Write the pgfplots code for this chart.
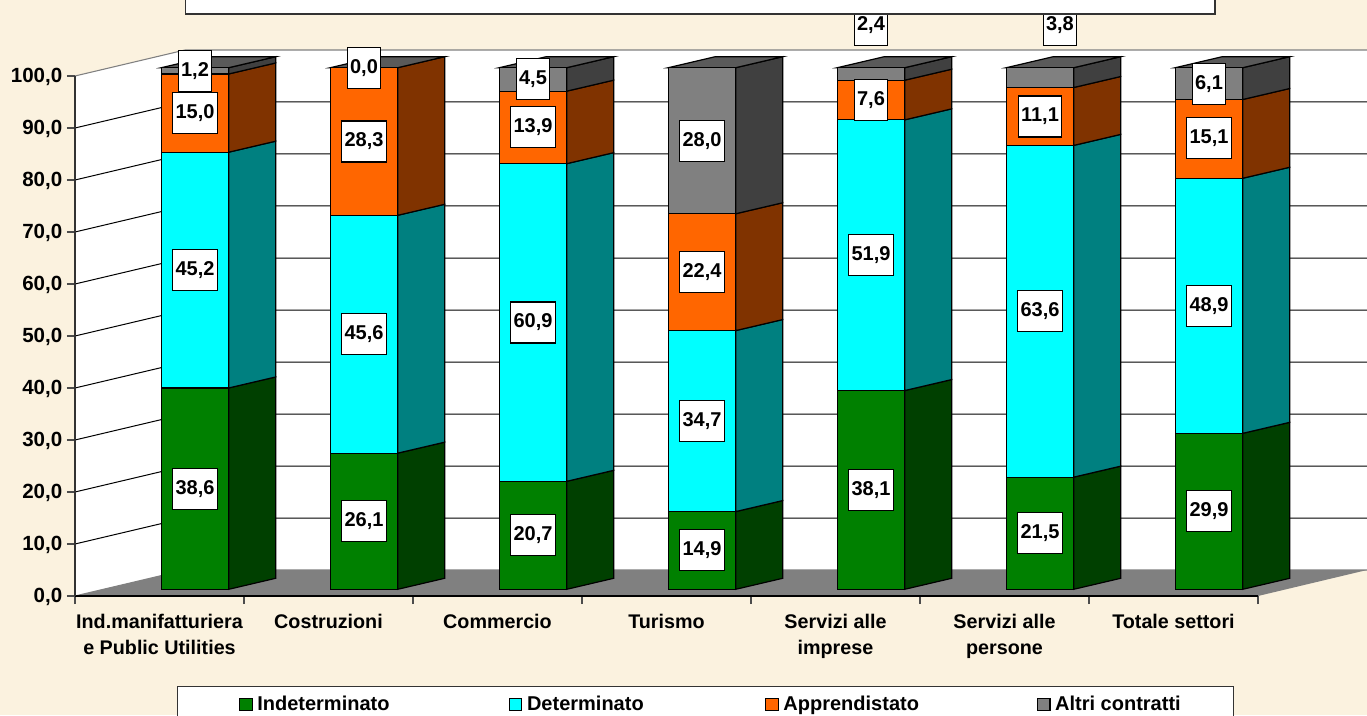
\documentclass[border=0pt]{standalone}
\usepackage{fontspec}
\setmainfont{Liberation Sans}
\usepackage{pgfplots}
\usepackage{pgfplotstable}
\pgfplotsset{compat=1.18}
\definecolor{paper}{HTML}{FBF2DF}
\definecolor{cgreen}{RGB}{0,128,0}
\definecolor{ccyan}{RGB}{0,255,255}
\definecolor{corange}{RGB}{255,102,0}
\definecolor{cgray}{RGB}{128,128,128}
\definecolor{sgreen}{RGB}{0,64,0}
\definecolor{scyan}{RGB}{0,128,128}
\definecolor{sorange}{RGB}{128,51,0}
\definecolor{sgray}{RGB}{64,64,64}
\definecolor{tgray}{RGB}{90,90,90}
\newcommand{\chartfont}{\fontsize{15.4}{19.5}\selectfont\bfseries}
\newcommand{\catfont}{\fontsize{14.8}{19.5}\selectfont\bfseries}
\newcommand{\valfont}{\fontsize{15}{19.5}\selectfont\bfseries}
\newcommand{\legfont}{\fontsize{15}{19.5}\selectfont\bfseries}
\pgfplotstableread{
x ind det app alt
0 38.6 45.2 15.0 1.2
1 26.1 45.6 28.3 0.0
2 20.7 60.9 13.9 4.5
3 14.9 34.7 22.4 28.0
4 38.1 51.9 7.6 2.4
5 21.5 63.6 11.1 3.8
6 29.9 48.9 15.1 6.1
}\bardata
\pgfplotstableread{
x y lab
0 19.3 38,6
0 61.2 45,2
0 91.3 15,0
0 99.4 1,2
1 13.05 26,1
1 48.9 45,6
1 85.85 28,3
1 100 0,0
2 10.35 20,7
2 51.15 60,9
2 88.55 13,9
2 97.75 4,5
3 7.45 14,9
3 32.25 34,7
3 60.8 22,4
3 86 28,0
4 19.05 38,1
4 64.05 51,9
4 93.8 7,6
4 108.1 2,4
5 10.75 21,5
5 53.3 63,6
5 90.65 11,1
5.118 108.1 3,8
6 14.95 29,9
6 54.35 48,9
6 86.55 15,1
6 96.95 6,1
}\labeldata
% side face: bar index, lower value, upper value, colour
\newcommand{\sideface}[4]{%
  \pgfmathsetmacro\xa{#1+0.1994}%
  \pgfmathsetmacro\xb{#1+0.1994+0.278}%
  \pgfmathsetmacro\ya{#2+2.11}%
  \pgfmathsetmacro\yb{#3+2.11}%
  \edef\temp{\noexpand\addplot[fill=#4,draw=black,line width=0.9pt] coordinates {(\xa,#2)(\xb,\ya)(\xb,\yb)(\xa,#3)} -- cycle;}\temp}
\newcommand{\topface}[1]{%
  \pgfmathsetmacro\xa{#1-0.1994}%
  \pgfmathsetmacro\xb{#1+0.1994}%
  \pgfmathsetmacro\xc{#1+0.1994+0.278}%
  \pgfmathsetmacro\xd{#1-0.1994+0.278}%
  \edef\temp{\noexpand\addplot[fill=tgray,draw=black,line width=0.9pt] coordinates {(\xa,100)(\xd,102.11)(\xc,102.11)(\xb,100)} -- cycle;}\temp}
\begin{document}
\begin{tikzpicture}
\path[use as bounding box] (-56.25pt,-89.25pt) rectangle (969pt,447pt);
\clip (-56.25pt,-89.25pt) rectangle (969pt,447pt);
\fill[paper] (-56.25pt,-89.25pt) rectangle (969pt,447pt);
% walls, floor, grid and the axes
\begin{axis}[
  name=base, at={(0pt,0pt)}, anchor=south west,
  scale only axis, width=887.25pt, height=390pt,
  xmin=0, xmax=7, ymin=0, ymax=100, clip=false,
  axis lines*=left, axis on top=true,
  x axis line style={line width=1.4pt},
  y axis line style={line width=0.8pt,black!80},
  tick align=outside, major tick length=6pt,
  tick style={line width=0.8pt,black!70},
  ytick={0,10,...,100},
  xtick={0,1,...,7},
  x tick label as interval,
  xticklabels={{Ind.manifatturiera\\e Public Utilities},Costruzioni,Commercio,Turismo,{Servizi alle\\imprese},{Servizi alle\\persone},Totale settori},
  xticklabel style={align=center,font=\catfont,yshift=-4.4pt},
  yticklabel style={font=\chartfont,yshift=-0.8pt,
    /pgf/number format/.cd,fixed,fixed zerofill,precision=1,use comma,1000 sep={},assume math mode=true},
]
\addplot[fill=white,draw=none] coordinates {(0,0)(0.651,5)(7.645,5)(7.645,105)(0.651,105)(0,100)} -- cycle;
\addplot[fill=cgray,draw=none] coordinates {(0,0)(0.651,5)(7.645,5)(7,0)} -- cycle;
\addplot[black!50,line width=0.8pt] coordinates {(0,100)(0.651,105)(7.645,105)};
\addplot[black,line width=0.75pt] coordinates {(0,90)(0.651,95)(7.645,95)};
\addplot[black,line width=0.75pt] coordinates {(0,80)(0.651,85)(7.645,85)};
\addplot[black,line width=0.75pt] coordinates {(0,70)(0.651,75)(7.645,75)};
\addplot[black,line width=0.75pt] coordinates {(0,60)(0.651,65)(7.645,65)};
\addplot[black,line width=0.75pt] coordinates {(0,50)(0.651,55)(7.645,55)};
\addplot[black,line width=0.75pt] coordinates {(0,40)(0.651,45)(7.645,45)};
\addplot[black,line width=0.75pt] coordinates {(0,30)(0.651,35)(7.645,35)};
\addplot[black,line width=0.75pt] coordinates {(0,20)(0.651,25)(7.645,25)};
\addplot[black,line width=0.75pt] coordinates {(0,10)(0.651,15)(7.645,15)};
\addplot[black!50,line width=0.8pt] coordinates {(0,0)(0.651,5)(7.645,5)};
\end{axis}
% side and top faces of the bars
\begin{axis}[
  at={(26.625pt,5.025pt)}, anchor=south west,
  scale only axis, width=887.25pt, height=391.2pt,
  xmin=-0.5, xmax=6.5, ymin=0, ymax=100, clip=false, hide axis,
]
\sideface{0}{0}{38.6}{sgreen}\sideface{0}{38.6}{83.8}{scyan}\sideface{0}{83.8}{98.8}{sorange}\sideface{0}{98.8}{100}{sgray}\topface{0}
\sideface{1}{0}{26.1}{sgreen}\sideface{1}{26.1}{71.7}{scyan}\sideface{1}{71.7}{100}{sorange}\topface{1}
\sideface{2}{0}{20.7}{sgreen}\sideface{2}{20.7}{81.6}{scyan}\sideface{2}{81.6}{95.5}{sorange}\sideface{2}{95.5}{100}{sgray}\topface{2}
\sideface{3}{0}{14.9}{sgreen}\sideface{3}{14.9}{49.6}{scyan}\sideface{3}{49.6}{72}{sorange}\sideface{3}{72}{100}{sgray}\topface{3}
\sideface{4}{0}{38.1}{sgreen}\sideface{4}{38.1}{90}{scyan}\sideface{4}{90}{97.6}{sorange}\sideface{4}{97.6}{100}{sgray}\topface{4}
\sideface{5}{0}{21.5}{sgreen}\sideface{5}{21.5}{85.1}{scyan}\sideface{5}{85.1}{96.2}{sorange}\sideface{5}{96.2}{100}{sgray}\topface{5}
\sideface{6}{0}{29.9}{sgreen}\sideface{6}{29.9}{78.8}{scyan}\sideface{6}{78.8}{93.9}{sorange}\sideface{6}{93.9}{100}{sgray}\topface{6}
\end{axis}
% front faces
\begin{axis}[
  at={(26.625pt,5.025pt)}, anchor=south west,
  scale only axis, width=887.25pt, height=391.2pt,
  xmin=-0.5, xmax=6.5, ymin=0, ymax=100, clip=false, hide axis,
  ybar stacked, bar width=50.55pt,
  legend columns=4,
  legend cell align=left,
  legend style={at={(0.0562,-0.1848)},anchor=north west,draw=black!80,fill=white,line width=0.9pt,
    font=\legfont,inner xsep=46pt,inner ysep=4.5pt,
    /tikz/every even column/.style={column sep=0pt},
    nodes={inner xsep=2pt,inner ysep=3pt}},
  legend image code/.code={\draw[#1,line width=0.8pt] (0pt,-4.6pt) rectangle (9.5pt,4.6pt);},
]
\addplot[fill=cgreen,draw=black,line width=0.9pt] table[x=x,y=ind] {\bardata};
\addplot[fill=ccyan,draw=black,line width=0.9pt] table[x=x,y=det] {\bardata};
\addplot[fill=corange,draw=black,line width=0.9pt] table[x=x,y=app] {\bardata};
\addplot[fill=cgray,draw=black,line width=0.9pt] table[x=x,y=alt] {\bardata};
\addlegendentry{\makebox[188pt][l]{\hspace{1.5pt}Indeterminato}}
\addlegendentry{\makebox[178pt][l]{\hspace{1.5pt}Determinato}}
\addlegendentry{\makebox[189.5pt][l]{\hspace{1.5pt}Apprendistato}}
\addlegendentry{\makebox[87pt][l]{\hspace{1.5pt}Altri contratti}}
\end{axis}
% value labels
\begin{axis}[
  at={(26.625pt,5.025pt)}, anchor=south west,
  scale only axis, width=887.25pt, height=391.2pt,
  xmin=-0.5, xmax=6.5, ymin=0, ymax=100, clip=false, hide axis,
]
\addplot[draw=none,mark=none,nodes near coords,nodes near coords align=center,
  every node near coord/.style={draw=black,fill=white,line width=0.8pt,font=\valfont,
    inner xsep=2.25pt,inner ysep=0pt,minimum height=30.75pt,anchor=center},
  point meta=explicit symbolic] table[x=x,y=y,meta=lab] {\labeldata};
\end{axis}
% title box, its text cut off by the picture's edge
\draw[fill=white,draw=black!80,line width=0.9pt] (82.75pt,436.5pt) rectangle (855pt,460pt);
\end{tikzpicture}
\end{document}
